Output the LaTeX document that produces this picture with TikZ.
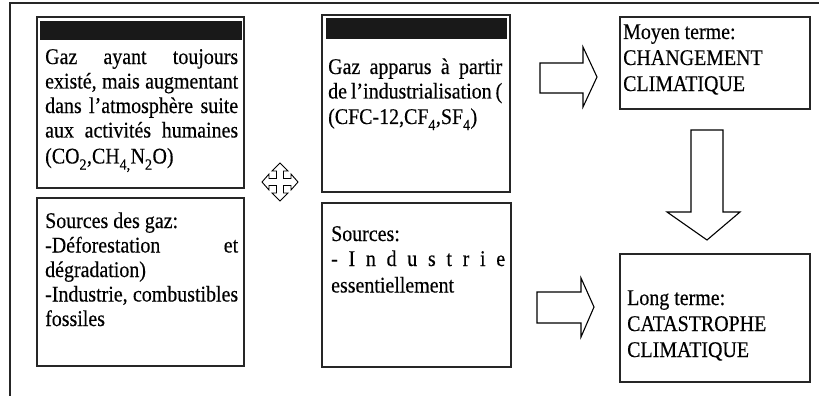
\documentclass[tikz,border=0pt]{standalone}
\usepackage{fontspec}
\setmainfont{Liberation Serif}[FakeStretch=0.89,FakeBold=0.35]
\begin{document}
\begin{tikzpicture}[x=1pt,y=-1pt,
  frame/.style={draw=black!85,line width=2pt},
  box/.style={draw=black!85,line width=2pt},
  bar/.style={fill=black!90,draw=none},
  blockarrow/.style={draw=black,line width=1.1pt,fill=white,line join=miter},
  txt/.style={inner sep=0pt,anchor=base west,font=\fontsize{22.4}{24.5}\selectfont},
  txtb/.style={inner sep=0pt,anchor=base west,font=\fontsize{22.4}{26}\selectfont}]
\useasboundingbox (0,0) rectangle (819,396);
% outer frame (top and left only)
\draw[frame] (819,3) -- (10,3) -- (10,396);
% box 1
\draw[box] (37,17) rectangle (244,188);
\fill[bar] (40,21) rectangle (242,40);
\node[txt] (t1) at (45,64) {\parbox[t]{193pt}{%
\makebox[193pt][s]{Gaz ayant toujours}\\
\makebox[193pt][s]{existé, mais augmentant}\\
\makebox[193pt][s]{dans l’atmosphère suite}\\
\makebox[193pt][s]{aux activités humaines}\\[1.5pt]
(CO\raisebox{-3pt}{\textsubscript{2}},CH\raisebox{-3pt}{\textsubscript{4,}}N\raisebox{-3pt}{\textsubscript{2}}O)}};
% box 2
\draw[box] (37,198) rectangle (244,366);
\node[txt] (t2) at (45,228) {\parbox[t]{193pt}{%
Sources des gaz:\\
\makebox[193pt][s]{-Déforestation et}\\
dégradation)\\
\makebox[193pt][s]{-Industrie, combustibles}\\
fossiles}};
% four-way arrow symbol
\begin{scope}[shift={(280,182)},line width=0.9pt]
\draw[black,fill=white,line join=miter] (0,-19) -- (8,-11) -- (3.5,-11) -- (3.5,-3.5) -- (11,-3.5) -- (11,-8) -- (18,0) -- (11,8) -- (11,3.5) -- (3.5,3.5) -- (3.5,11) -- (8,11) -- (0,19) -- (-8,11) -- (-3.5,11) -- (-3.5,3.5) -- (-11,3.5) -- (-11,8) -- (-18,0) -- (-11,-8) -- (-11,-3.5) -- (-3.5,-3.5) -- (-3.5,-11) -- (-8,-11) -- cycle;
\end{scope}
% box 3
\draw[box] (322,15) rectangle (510,192);
\fill[bar] (326,18) rectangle (507,39);
\node[txt] (t3) at (328,74) {\parbox[t]{174pt}{%
\makebox[174pt][s]{Gaz apparus à partir}\\
\makebox[174pt][s]{de l’industrialisation (}\\[1pt]
(CFC-12,CF\raisebox{-3pt}{\textsubscript{4}},SF\raisebox{-3pt}{\textsubscript{4}})}};
% box 4
\draw[box] (322,203) rectangle (511,367);
\node[txt] (t4) at (331,241) {\parbox[t]{174pt}{%
Sources:\\[0.5pt]
\makebox[174pt][s]{-\hfill I\hfill n\hfill d\hfill u\hfill s\hfill t\hfill r\hfill i\hfill e}\\[2pt]
essentiellement}};
% Moyen terme box
\draw[box] (620,17) rectangle (810,109);
\node[txtb] (t5) at (623,39) {\parbox[t]{185pt}{%
Moyen terme:\\
CHANGEMENT\\
CLIMATIQUE}};
% Long terme box
\draw[box] (620,254) rectangle (810,382);
\node[txtb] (t6) at (627,305) {\parbox[t]{180pt}{%
Long terme:\\
CATASTROPHE\\
CLIMATIQUE}};
% block arrows
\draw[blockarrow] (540,63) -- (583,63) -- (583,47) -- (597,77) -- (583,107) -- (583,93) -- (540,93) -- cycle;
\draw[blockarrow] (537,292) -- (581,292) -- (581,278) -- (594,307) -- (581,337) -- (581,323) -- (537,323) -- cycle;
\draw[blockarrow] (691,130) -- (723,130) -- (723,212) -- (740,212) -- (707,240) -- (667,212) -- (691,212) -- cycle;
\end{tikzpicture}
\end{document}
